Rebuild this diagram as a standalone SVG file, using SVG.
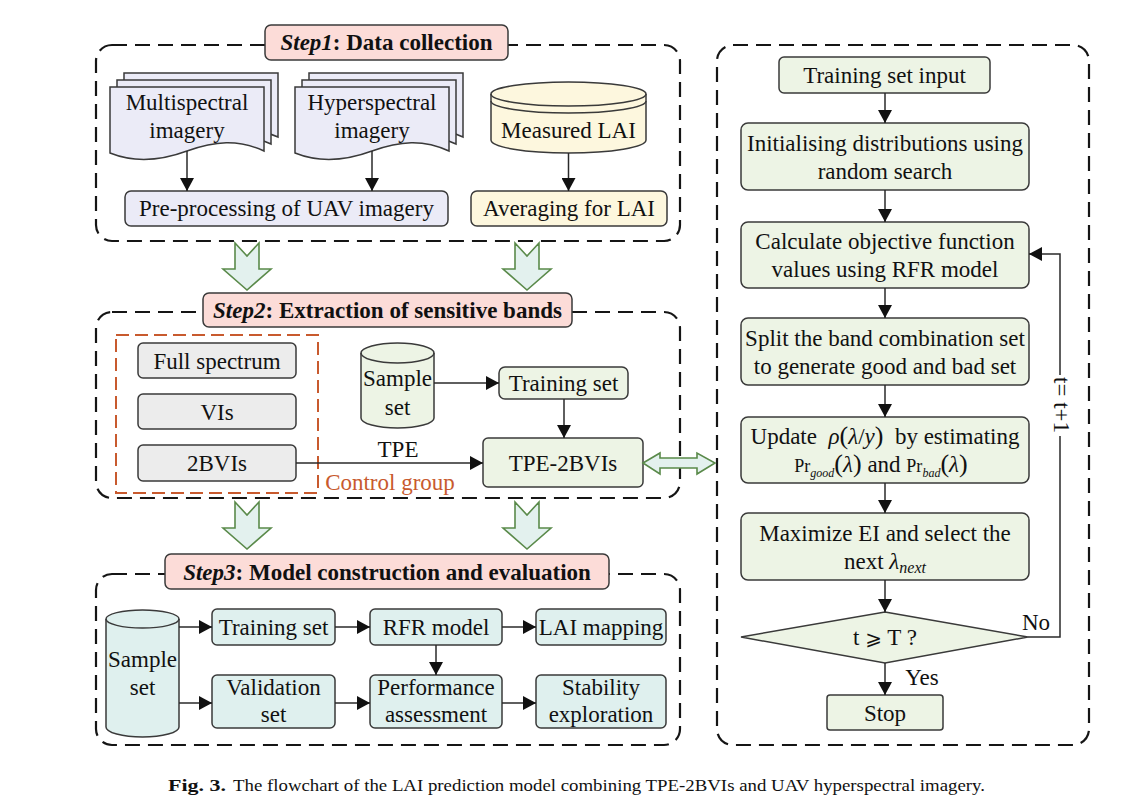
<svg xmlns="http://www.w3.org/2000/svg" width="1146" height="802" viewBox="0 0 1146 802">
  <style>
    text { font-family: "Liberation Serif", "DejaVu Serif", serif; font-size: 23px; fill: #111; text-anchor: middle; }
    .title { font-weight: bold; }
    .box { stroke: #3a3a3a; stroke-width: 1.5; }
    .pink { fill: #fcdcd8; }
    .lav { fill: #ebebf7; }
    .yel { fill: #fdf7de; }
    .gray { fill: #ececec; }
    .grn { fill: #edf4e5; }
    .cyan { fill: #dff0ee; }
    .frame { fill: none; stroke: #151515; stroke-width: 2.2; stroke-dasharray: 15 8; }
    .ctrl { fill: none; stroke: #c85a2e; stroke-width: 2; stroke-dasharray: 13 6; }
    .conn { fill: none; stroke: #2a2a2a; stroke-width: 1.5; }
    .arr { marker-end: url(#head); }
    .block { fill: #e3f1ee; stroke: #5a8a4a; stroke-width: 1.6; stroke-linejoin: miter; }
    .it { font-style: italic; }
    .caption { font-size: 17px; text-anchor: start; }
  </style>
  <defs>
    <marker id="head" markerUnits="userSpaceOnUse" markerWidth="13" markerHeight="14" refX="13" refY="7" orient="auto">
      <path d="M0,0 L13,7 L0,14 Z" fill="#111"/>
    </marker>
    <path id="doc" d="M0,0 H154 V64 C128,52 105,54 77,64 C50,74 25,76 0,66 Z"/>
    <path id="blockDown" d="M-12,0 L0,13 L12,0 V26 H24 L0,47 L-24,26 H-12 Z"/>
  </defs>

  <rect width="1146" height="802" fill="#ffffff"/>

  <!-- dashed stage frames -->
  <g id="frames">
    <rect class="frame" x="96" y="45" width="584" height="196" rx="16"/>
    <rect class="frame" x="96" y="312" width="584" height="186" rx="16"/>
    <rect class="frame" x="96" y="574" width="584" height="171" rx="16"/>
    <rect class="frame" x="717" y="45" width="372" height="700" rx="16"/>
  </g>

  <!-- Step 1 -->
  <g id="step1-title">
    <rect class="box pink" x="265" y="25" width="243" height="35" rx="6"/>
    <text class="title" x="386.5" y="50"><tspan class="it">Step1</tspan>: Data collection</text>
  </g>
  <g id="multispectral">
    <use href="#doc" x="124" y="73" class="box lav"/>
    <use href="#doc" x="117" y="80" class="box lav"/>
    <use href="#doc" x="110" y="87" class="box lav"/>
    <text x="187" y="110">Multispectral</text>
    <text x="187" y="138">imagery</text>
  </g>
  <g id="hyperspectral">
    <use href="#doc" x="309" y="73" class="box lav"/>
    <use href="#doc" x="302" y="80" class="box lav"/>
    <use href="#doc" x="295" y="87" class="box lav"/>
    <text x="372" y="110">Hyperspectral</text>
    <text x="372" y="138">imagery</text>
  </g>
  <g id="measured-lai">
    <path class="box yel" d="M491,94 A77.5,12 0 0 1 646,94 V140 A77.5,13 0 0 1 491,140 Z"/>
    <path class="box" fill="none" d="M491,94 A77.5,12 0 0 0 646,94"/>
    <path class="box" fill="none" d="M491,101 A77.5,12 0 0 0 646,101"/>
    <text x="568.5" y="138">Measured LAI</text>
  </g>
  <g id="preprocessing">
    <rect class="box lav" x="125" y="191" width="323" height="35" rx="6"/>
    <text x="286.5" y="216">Pre-processing of UAV imagery</text>
  </g>
  <g id="averaging">
    <rect class="box yel" x="471" y="191" width="196" height="35" rx="6"/>
    <text x="569" y="216">Averaging for LAI</text>
  </g>

  <!-- Step 2 -->
  <g id="step2-title">
    <rect class="box pink" x="203" y="293" width="369" height="34" rx="6"/>
    <text class="title" x="387.5" y="318"><tspan class="it">Step2</tspan>: Extraction of sensitive bands</text>
  </g>
  <g id="control-group">
    <rect class="ctrl" x="116" y="335" width="202" height="158"/>
    <text x="390" y="490" style="fill:#c85a2e">Control group</text>
  </g>
  <g id="full-spectrum">
    <rect class="box gray" x="138" y="343" width="158" height="35" rx="5"/>
    <text x="217" y="368.5">Full spectrum</text>
  </g>
  <g id="vis">
    <rect class="box gray" x="138" y="394" width="158" height="35" rx="5"/>
    <text x="217" y="419.5">VIs</text>
  </g>
  <g id="bvis2">
    <rect class="box gray" x="138" y="445" width="158" height="36" rx="5"/>
    <text x="217" y="471">2BVIs</text>
  </g>
  <g id="sample-set-2">
    <path class="box grn" d="M361,353 A36.5,10 0 0 1 434,353 V418 A36.5,10 0 0 1 361,418 Z"/>
    <path class="box" fill="none" d="M361,353 A36.5,10 0 0 0 434,353"/>
    <text x="397.5" y="386">Sample</text>
    <text x="397.5" y="415">set</text>
  </g>
  <g id="training-set-2">
    <rect class="box grn" x="499" y="367" width="129" height="32" rx="6"/>
    <text x="563.5" y="391">Training set</text>
  </g>
  <g id="tpe-2bvis">
    <rect class="box grn" x="483" y="438" width="160" height="49" rx="5"/>
    <text x="563" y="470.5">TPE-2BVIs</text>
  </g>

  <!-- Step 3 -->
  <g id="step3-title">
    <rect class="box pink" x="165" y="554" width="444" height="35" rx="6"/>
    <text class="title" x="387" y="579.5"><tspan class="it">Step3</tspan>: Model construction and evaluation</text>
  </g>
  <g id="sample-set-3">
    <path class="box cyan" d="M106,619 A36.5,9 0 0 1 179,619 V727 A36.5,10 0 0 1 106,727 Z"/>
    <path class="box" fill="none" d="M106,619 A36.5,9 0 0 0 179,619"/>
    <text x="142.5" y="667">Sample</text>
    <text x="142.5" y="695">set</text>
  </g>
  <g id="training-set-3">
    <rect class="box cyan" x="212" y="609" width="123" height="36" rx="5"/>
    <text x="273.5" y="635">Training set</text>
  </g>
  <g id="rfr-model">
    <rect class="box cyan" x="370" y="609" width="132" height="36" rx="5"/>
    <text x="436" y="635">RFR model</text>
  </g>
  <g id="lai-mapping">
    <rect class="box cyan" x="536" y="609" width="130" height="36" rx="5"/>
    <text x="601" y="635">LAI mapping</text>
  </g>
  <g id="validation-set">
    <rect class="box cyan" x="212" y="675" width="123" height="53" rx="5"/>
    <text x="273.5" y="695">Validation</text>
    <text x="273.5" y="722">set</text>
  </g>
  <g id="performance">
    <rect class="box cyan" x="370" y="675" width="132" height="53" rx="5"/>
    <text x="436" y="695">Performance</text>
    <text x="436" y="722">assessment</text>
  </g>
  <g id="stability">
    <rect class="box cyan" x="536" y="675" width="130" height="53" rx="5"/>
    <text x="601" y="695">Stability</text>
    <text x="601" y="722">exploration</text>
  </g>

  <!-- TPE loop -->
  <g id="training-input">
    <rect class="box grn" x="779" y="57" width="211" height="36" rx="5"/>
    <text x="884.5" y="83">Training set input</text>
  </g>
  <g id="initialising">
    <rect class="box grn" x="741" y="123" width="288" height="67" rx="7"/>
    <text x="885" y="151">Initialising distributions using</text>
    <text x="885" y="179">random search</text>
  </g>
  <g id="calculate">
    <rect class="box grn" x="741" y="222" width="288" height="66" rx="7"/>
    <text x="885" y="249">Calculate objective function</text>
    <text x="885" y="277">values using RFR model</text>
  </g>
  <g id="split">
    <rect class="box grn" x="741" y="318" width="288" height="67" rx="7"/>
    <text x="885" y="345.5">Split the band combination set</text>
    <text x="885" y="373.5">to generate good and bad set</text>
  </g>
  <g id="update">
    <rect class="box grn" x="741" y="417" width="288" height="66" rx="7"/>
    <text x="885" y="444" xml:space="preserve">Update  <tspan class="it">ρ</tspan><tspan font-size="26">(</tspan><tspan class="it">λ</tspan>/<tspan class="it">y</tspan><tspan font-size="26">)</tspan>  by estimating</text>
    <text x="881" y="472" xml:space="preserve"><tspan font-size="18">Pr</tspan><tspan class="it" font-size="12" dy="5">good</tspan><tspan dy="-5" font-size="26">(</tspan><tspan class="it">λ</tspan><tspan font-size="26">)</tspan> and <tspan font-size="18">Pr</tspan><tspan class="it" font-size="12" dy="5">bad</tspan><tspan dy="-5" font-size="26">(</tspan><tspan class="it">λ</tspan><tspan font-size="26">)</tspan></text>
  </g>
  <g id="maximize">
    <rect class="box grn" x="741" y="513" width="288" height="67" rx="7"/>
    <text x="885" y="540.5">Maximize EI and select the</text>
    <text x="885" y="568.5">next <tspan class="it">λ</tspan><tspan class="it" font-size="16" dy="4">next</tspan></text>
  </g>
  <g id="condition">
    <polygon class="box grn" points="885,612 1028,637 885,663 741,637"/>
    <text x="885" y="645">t <tspan style="font-family:'DejaVu Serif','DejaVu Sans',serif" font-size="20">⩾</tspan> T ?</text>
  </g>
  <g id="stop">
    <rect class="box grn" x="827" y="695" width="116" height="35" rx="3"/>
    <text x="885" y="720.5">Stop</text>
  </g>

  <!-- connectors -->
  <g id="connectors">
    <line class="conn arr" x1="187" y1="151" x2="187" y2="191"/>
    <line class="conn arr" x1="372" y1="151" x2="372" y2="191"/>
    <line class="conn arr" x1="568.5" y1="153" x2="568.5" y2="191"/>

    <line class="conn arr" x1="434" y1="383" x2="499" y2="383"/>
    <line class="conn arr" x1="564" y1="399" x2="564" y2="438"/>
    <line class="conn arr" x1="296" y1="463" x2="483" y2="463"/>
    <text x="398" y="457">TPE</text>

    <line class="conn arr" x1="179" y1="627" x2="212" y2="627"/>
    <line class="conn arr" x1="179" y1="703" x2="212" y2="703"/>
    <line class="conn arr" x1="335" y1="627" x2="370" y2="627"/>
    <line class="conn arr" x1="502" y1="627" x2="536" y2="627"/>
    <line class="conn arr" x1="335" y1="703" x2="370" y2="703"/>
    <line class="conn arr" x1="502" y1="703" x2="536" y2="703"/>
    <line class="conn arr" x1="436" y1="645" x2="436" y2="675"/>

    <line class="conn arr" x1="885" y1="93" x2="885" y2="123"/>
    <line class="conn arr" x1="885" y1="190" x2="885" y2="222"/>
    <line class="conn arr" x1="885" y1="288" x2="885" y2="318"/>
    <line class="conn arr" x1="885" y1="385" x2="885" y2="417"/>
    <line class="conn arr" x1="885" y1="483" x2="885" y2="513"/>
    <line class="conn arr" x1="885" y1="580" x2="885" y2="612"/>
    <line class="conn arr" x1="885" y1="663" x2="885" y2="695"/>
    <text x="922" y="685">Yes</text>

    <polyline class="conn" points="1028,637 1060,637 1060,436"/>
    <polyline class="conn arr" points="1060,375 1060,254 1029,254"/>
    <text x="1036" y="630">No</text>
    <text transform="translate(1062,405) rotate(90)" y="8">t= t+1</text>

    <!-- hollow block arrows between stages -->
    <use href="#blockDown" class="block" x="247" y="243"/>
    <use href="#blockDown" class="block" x="527" y="243"/>
    <use href="#blockDown" class="block" x="247" y="502"/>
    <use href="#blockDown" class="block" x="527" y="502"/>
    <path class="block" d="M643,463 L660,453 V458 H697 V453 L715,463 L697,474 V468 H660 V474 Z"/>
  </g>

  <text class="caption" x="168" y="791" font-weight="bold" textLength="58" lengthAdjust="spacingAndGlyphs">Fig. 3.</text>
  <text class="caption" x="233" y="791" textLength="752" lengthAdjust="spacingAndGlyphs">The flowchart of the LAI prediction model combining TPE-2BVIs and UAV hyperspectral imagery.</text>
</svg>
